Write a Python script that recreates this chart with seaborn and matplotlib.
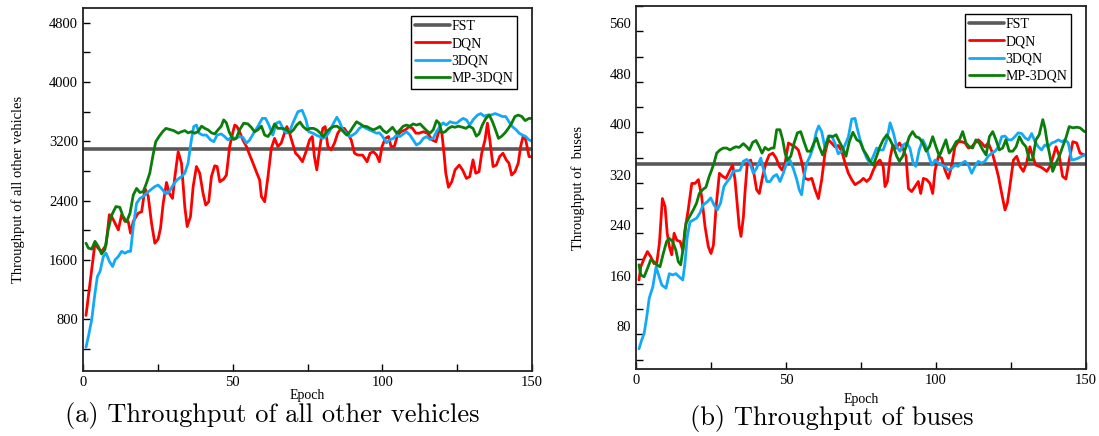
import matplotlib
matplotlib.use("Agg")
import matplotlib.pyplot as plt
import seaborn as sns
import pandas as pd
from matplotlib.ticker import MultipleLocator
from matplotlib.transforms import ScaledTranslation

# ---------------- data: (a) throughput of all other vehicles ----------------
fst_other = 3100

dqn_other_ep = [1, 4, 5, 6.2, 7.7, 8.8, 9.6, 10.7, 11.8, 12.9, 14, 15.1, 15.9, 16.8, 18.4, 19.6, 20.7, 21.8, 22.9, 24,
                25.1, 25.9, 26.8, 27.9, 28.8, 29.9, 30.7, 31.8, 32.9, 34, 34.8, 35.9, 36.8, 37.9, 39, 40.1, 41, 42, 42.9, 44,
                44.8, 45.7, 47, 47.9, 49, 50.1, 50.7, 51.4, 52.3, 53.4, 54.6, 55.7, 56.8, 57.9, 59, 59.6, 60.7, 61.8, 62.9, 64,
                65.1, 66.2, 67.3, 68.1, 69, 70, 71, 72.1, 73.3, 74.5, 75.7, 76.6, 77.3, 78.1, 79, 80.1, 80.9, 81.8, 82.9, 84,
                85.1, 86.2, 87.3, 88.4, 89.6, 90.7, 91.8, 93.4, 94.9, 95.9, 97, 98.1, 99, 99.9, 101, 102.1, 102.9, 104, 105.1, 106.2,
                107.7, 109, 110.1, 111.2, 112.3, 113.7, 115.1, 116.6, 117.9, 119, 119.9, 120.7, 121.2, 122.1, 123.2, 124.3, 125.7, 126.8, 128.1, 129.2,
                130.3, 131.2, 132.3, 133.2, 134.3, 135.1, 135.9, 137, 138.1, 139.2, 140.3, 141.4, 142.3, 143.2, 144.3, 145.4, 146.2, 147, 147.9, 149, 150]
dqn_other = [850, 1825, 1760, 1710, 1800, 2210, 2185, 2095, 2005, 2210, 2120, 2120, 1960, 2120, 2230, 2250, 2565, 2455, 2095, 1825,
             1880, 2030, 2365, 2645, 2500, 2430, 2725, 3060, 2905, 2320, 2050, 2185, 2590, 2860, 2770, 2500, 2340, 2385, 2725, 2870,
             2860, 2655, 2690, 2745, 3130, 3330, 3420, 3400, 3330, 3220, 3130, 3015, 2905, 2790, 2680, 2455, 2385, 2725, 3105, 3240,
             3130, 3175, 3310, 3400, 3310, 3175, 3040, 2995, 2925, 3060, 3220, 3265, 2995, 2815, 3085, 3375, 3400, 3130, 3085, 3175,
             3310, 3375, 3375, 3310, 3220, 3040, 3015, 3015, 2925, 3040, 3060, 3015, 2925, 3130, 3240, 3265, 3130, 3130, 3285, 3330,
             3355, 3400, 3375, 3310, 3310, 3330, 3310, 3220, 3195, 3355, 3310, 2995, 2770, 2580, 2655, 2815, 2880, 2815, 2700, 2725,
             2950, 2770, 2790, 3040, 3220, 3445, 3220, 2860, 2880, 2995, 3040, 2950, 2905, 2745, 2790, 2905, 3130, 3265, 3220, 2995, 2990]

d3qn_other_ep = [1, 1.8, 2.9, 4, 4.8, 5.7, 6.8, 7.7, 8.8, 9.9, 10.7, 11.8, 12.9, 14, 15.1, 15.9, 16.8, 17.9, 19, 20.1,
                 21.2, 22.6, 24, 25.1, 26.2, 27.7, 28.8, 30.1, 31.4, 32.9, 34, 35.1, 36.2, 37, 37.9, 38.8, 39.9, 41.2, 42.6, 43.7,
                 44.8, 46.2, 47.3, 48.4, 49.6, 51, 52.3, 53.4, 54.6, 55.7, 57, 58.4, 59.9, 61, 62.1, 63.4, 64.6, 65.7, 67, 68.1,
                 69.2, 70.3, 71.8, 73.2, 74.5, 75.4, 76.8, 77.9, 79, 80.1, 81.2, 82.3, 83.7, 84.8, 85.7, 86.8, 87.9, 89, 90.1, 91.2,
                 92.3, 93.4, 94.6, 95.7, 97, 98.1, 99, 100.1, 101.4, 102.5, 103.7, 104.8, 105.9, 107, 108.1, 109.2, 110.3, 111.4, 112.6, 113.7,
                 114.8, 115.9, 117, 118.1, 119.2, 120.3, 121.4, 122.6, 123.7, 124.8, 125.9, 127, 128.1, 129.2, 130.3, 131.8, 132.9, 134, 135.1, 136.2,
                 137.7, 139, 140.1, 141.2, 142.3, 143.4, 144.6, 145.7, 146.8, 147.9, 149, 150]
d3qn_other = [420, 565, 790, 1150, 1375, 1445, 1645, 1690, 1580, 1510, 1600, 1645, 1715, 1690, 1715, 1715, 2050, 2365, 2430, 2455,
              2500, 2545, 2590, 2610, 2565, 2490, 2520, 2610, 2680, 2725, 2770, 2905, 3220, 3400, 3420, 3310, 3285, 3285, 3220, 3195,
              3285, 3300, 3265, 3220, 3255, 3240, 3265, 3255, 3175, 3220, 3310, 3400, 3510, 3510, 3420, 3285, 3445, 3465, 3355, 3310,
              3355, 3465, 3600, 3620, 3490, 3330, 3310, 3285, 3265, 3240, 3265, 3330, 3445, 3525, 3465, 3355, 3310, 3265, 3285, 3315,
              3375, 3405, 3375, 3355, 3330, 3310, 3315, 3265, 3180, 3220, 3240, 3285, 3265, 3300, 3330, 3285, 3220, 3150, 3180, 3240,
              3265, 3225, 3240, 3330, 3400, 3450, 3420, 3465, 3450, 3445, 3480, 3510, 3490, 3420, 3490, 3555, 3575, 3540, 3555, 3555,
              3575, 3555, 3535, 3535, 3465, 3400, 3360, 3310, 3285, 3265, 3220, 3200]

mp_other_ep = [1, 1.8, 2.9, 4, 5.1, 6.2, 7.3, 8.4, 9.6, 11, 12.3, 13.4, 14.6, 15.7, 16.8, 17.9, 19, 20.1, 21.2, 22.3,
               23.4, 24.3, 25.4, 26.6, 27.7, 29, 30.3, 31.8, 32.9, 34, 35.1, 36.2, 37.3, 38.4, 39.6, 40.7, 41.8, 42.9, 44, 45.1,
               46.2, 47, 47.9, 48.8, 49.6, 50.3, 51.2, 52.3, 53.7, 55.1, 56.2, 57.3, 58.4, 59.6, 60.7, 61.8, 62.9, 64, 65.1, 66.6,
               67.9, 69.2, 70.3, 71.4, 72.5, 73.5, 74.8, 75.9, 77, 78.1, 79.2, 80.3, 81.4, 82.6, 83.7, 84.8, 85.9, 87, 88.1, 89.2,
               90.3, 91.4, 92.6, 93.7, 94.8, 95.9, 97, 98.1, 99.2, 100.3, 101.4, 102.5, 103.4, 104.8, 105.9, 107, 108.1, 109.2, 110.3, 111.4,
               112.6, 113.7, 114.8, 115.9, 117, 118.1, 119, 119.9, 121, 122.1, 123.2, 124.3, 125.4, 126.8, 127.9, 129, 130.3, 131.4, 132.3, 133.4,
               134.6, 135.7, 136.8, 137.9, 138.8, 139.9, 141, 142.1, 143.2, 144.3, 145.4, 146.6, 147.7, 149, 150]
mp_other = [1825, 1760, 1745, 1850, 1780, 1680, 1735, 2005, 2205, 2320, 2310, 2185, 2115, 2230, 2475, 2565, 2510, 2520, 2635, 2770,
            3015, 3195, 3265, 3330, 3375, 3360, 3345, 3310, 3330, 3345, 3315, 3330, 3310, 3330, 3405, 3375, 3355, 3315, 3300, 3355,
            3405, 3490, 3450, 3330, 3265, 3225, 3240, 3355, 3445, 3435, 3390, 3330, 3355, 3405, 3285, 3265, 3330, 3435, 3375, 3375,
            3360, 3315, 3355, 3420, 3460, 3400, 3355, 3375, 3375, 3355, 3315, 3265, 3330, 3375, 3400, 3405, 3375, 3330, 3285, 3330,
            3400, 3465, 3435, 3405, 3400, 3375, 3355, 3375, 3400, 3345, 3315, 3355, 3390, 3310, 3355, 3405, 3420, 3405, 3435, 3420,
            3435, 3390, 3345, 3310, 3355, 3480, 3445, 3315, 3330, 3375, 3400, 3390, 3405, 3390, 3375, 3405, 3375, 3270, 3300, 3420,
            3510, 3555, 3465, 3345, 3240, 3270, 3315, 3375, 3445, 3535, 3555, 3535, 3480, 3510, 3510]

# ---------------- data: (b) throughput of buses ----------------
fst_bus = 350

dqn_bus_ep = [1, 1.6, 2.7, 3.8, 4.9, 6, 6.9, 7.8, 8.8, 9.7, 10.4, 11.1, 11.9, 12.7, 13.6, 14.7, 15.6, 16.3, 17.4, 18.6,
              19.7, 20.8, 21.9, 23, 24.1, 25, 25.8, 26.7, 27.8, 28.9, 30, 31.1, 32.2, 33, 33.8, 34.4, 35, 35.8, 36.3, 37.1,
              38.2, 39.3, 40.2, 41.1, 42.2, 43.3, 44.4, 45.6, 46.7, 47.8, 48.7, 49.7, 50.8, 51.9, 53, 54.1, 55.2, 56.3, 57.4, 58.6,
              59.7, 60.8, 61.9, 63, 64.1, 65.2, 66.3, 67.4, 68.6, 69.7, 70.8, 71.9, 73, 74.7, 75.8, 76.9, 78, 79.1, 80.2, 81.3,
              82.4, 83, 83.8, 84.7, 85.6, 86.7, 87.8, 88.9, 90, 90.8, 91.9, 93, 94.1, 94.9, 95.8, 96.9, 98, 98.9, 99.7, 100.8,
              101.9, 103, 104.1, 105.2, 106.3, 107.4, 108.6, 109.7, 110.8, 111.9, 113, 114.1, 115.2, 116.3, 117.4, 118.6, 119.7, 120.8, 121.9, 123,
              123.8, 124.7, 125.8, 126.9, 128, 129.1, 130.2, 131.3, 132.2, 133.3, 134.4, 135.6, 136.9, 138, 138.9, 140, 141.1, 142.2, 143.3, 144.4,
              145.6, 146.9, 148, 149.5]
dqn_bus = [166, 187, 200, 211, 203, 192, 192, 224, 295, 282, 240, 219, 206, 240, 229, 227, 213, 245, 277, 319,
           319, 325, 298, 251, 219, 208, 221, 282, 335, 330, 327, 338, 348, 325, 282, 251, 235, 266, 303, 351,
           356, 335, 309, 303, 330, 351, 364, 367, 359, 346, 340, 351, 383, 380, 377, 372, 354, 327, 325, 327,
           309, 295, 325, 367, 388, 383, 377, 379, 370, 351, 335, 325, 317, 322, 327, 322, 327, 340, 351, 356,
           346, 314, 322, 359, 380, 375, 383, 375, 362, 311, 306, 314, 322, 303, 327, 325, 319, 303, 340, 362,
           359, 340, 327, 346, 377, 385, 385, 383, 375, 377, 383, 388, 383, 377, 383, 370, 351, 330, 303, 277,
           288, 317, 356, 362, 346, 338, 351, 377, 362, 348, 346, 343, 338, 346, 359, 377, 362, 330, 326, 356,
           385, 383, 367, 364]

d3qn_bus_ep = [1, 1.9, 2.7, 3.6, 4.4, 5.6, 6.7, 7.4, 8.6, 10, 11.1, 12.2, 13.3, 14.4, 15.6, 16.3, 17.1, 18, 19.1, 20.2,
               21.3, 22.4, 23.8, 24.9, 26, 27.1, 28.2, 29.3, 30.4, 31.3, 32.4, 33.6, 34.7, 35.8, 36.9, 38, 39.1, 40.2, 41.6, 42.4,
               43.6, 44.7, 45.8, 46.9, 48, 49.1, 50.2, 51.3, 52.4, 53.6, 54.4, 55.2, 56, 56.9, 58, 59.1, 60, 60.9, 61.9, 63,
               64.1, 65.2, 66.3, 67.4, 68.6, 69.7, 70.8, 71.9, 73, 73.6, 74.7, 75.8, 76.9, 78, 79.1, 80.2, 81.3, 82.4, 83.6, 84.7,
               85.8, 86.9, 88, 89.1, 90.2, 91.3, 92.4, 93.3, 94.4, 95.6, 96.7, 97.8, 98.6, 99.7, 100.8, 101.9, 103, 104.1, 105.2, 106.3,
               107.4, 108.6, 109.7, 110.8, 111.9, 113, 114.1, 115.2, 116.3, 117.4, 118.6, 119.7, 120.8, 121.9, 123, 124.1, 125.2, 126.3, 127.4, 128.6,
               129.7, 130.8, 131.9, 133, 134.1, 135.2, 136.3, 137.4, 138.6, 139.7, 140.8, 141.9, 143, 144.1, 145.2, 146.3, 147.4, 148.6, 149.6]
d3qn_bus = [57, 71, 81, 108, 137, 155, 187, 176, 158, 153, 176, 174, 176, 171, 166, 192, 235, 258, 261, 264,
            272, 285, 290, 296, 285, 277, 288, 314, 322, 327, 338, 339, 340, 354, 357, 351, 335, 343, 359, 343,
            322, 322, 330, 333, 322, 335, 351, 356, 343, 325, 309, 301, 330, 351, 362, 377, 399, 410, 401, 375,
            394, 394, 383, 366, 370, 380, 393, 421, 422, 409, 388, 372, 359, 351, 362, 375, 372, 372, 388, 415,
            399, 377, 370, 380, 383, 375, 351, 346, 372, 388, 377, 359, 348, 356, 351, 348, 346, 340, 343, 348,
            346, 351, 354, 348, 335, 346, 354, 351, 354, 362, 367, 370, 377, 393, 394, 388, 388, 393, 399, 398,
            391, 388, 398, 385, 377, 372, 380, 377, 383, 385, 388, 385, 388, 383, 356, 357, 359, 362, 364]

mp_bus_ep = [1, 1.6, 2.7, 3.8, 4.9, 6, 6.9, 8, 9.1, 10.2, 11.1, 12.2, 13.3, 14.1, 14.9, 15.8, 16.7, 17.8, 19.1, 20.2,
             21.1, 22.2, 23.3, 24.4, 25.2, 26, 26.9, 28, 29.1, 30.2, 31.3, 32.4, 33.3, 34.4, 35.8, 36.9, 37.8, 38.9, 40, 41.1,
             42, 43, 44.1, 45.2, 46, 46.9, 48, 48.9, 49.7, 50.4, 51.6, 52.7, 53.8, 54.9, 56, 57.1, 58.2, 59.3, 60.2, 61.1,
             62.2, 63.3, 64.4, 65.6, 66.7, 67.8, 68.9, 70, 71.1, 72.3, 73.6, 74.7, 75.8, 76.9, 78, 79.1, 80.2, 81.3, 82.4, 83.6,
             84.7, 85.8, 86.9, 87.8, 88.9, 90, 91.1, 92.2, 93.3, 94.4, 95.6, 96.7, 97.8, 98.9, 100, 101.1, 102.2, 103.3, 104.4, 105.6,
             106.7, 107.8, 108.9, 110, 111.1, 112.2, 113.3, 114.4, 115.6, 116.7, 117.8, 118.9, 120, 121.1, 122.2, 123.3, 124.4, 125.6, 126.7, 127.8,
             128.9, 130, 131.1, 132.2, 133.3, 134.4, 135.6, 136.3, 137.1, 138, 138.9, 140, 141.1, 142.2, 143.3, 144.4, 145.6, 146.9, 148, 149.5]
mp_bus = [190, 174, 171, 184, 198, 195, 190, 187, 208, 227, 232, 227, 213, 195, 190, 219, 256, 266, 277, 288,
          303, 309, 313, 330, 340, 351, 367, 372, 375, 375, 372, 375, 377, 376, 382, 377, 372, 384, 387, 377,
          367, 376, 372, 375, 375, 404, 404, 388, 367, 356, 362, 383, 399, 401, 385, 370, 370, 383, 391, 377,
          364, 380, 394, 393, 396, 385, 375, 362, 385, 400, 388, 385, 372, 364, 354, 348, 362, 377, 388, 396,
          388, 377, 362, 354, 362, 377, 393, 401, 393, 391, 383, 370, 377, 393, 377, 362, 375, 388, 367, 375,
          385, 388, 401, 383, 377, 375, 388, 383, 372, 364, 393, 401, 388, 372, 375, 388, 370, 370, 377, 393,
          383, 377, 356, 356, 388, 396, 420, 407, 383, 362, 338, 351, 362, 377, 391, 409, 407, 408, 407, 401]

methods = ["FST", "DQN", "3DQN", "MP-3DQN"]
colors = {"FST": "#595959", "DQN": "#ff0000", "3DQN": "#14a9f7", "MP-3DQN": "#0a7d0a"}
widths = {"FST": 2.6, "DQN": 2.0, "3DQN": 2.0, "MP-3DQN": 2.0}
epoch_range = [0, 150]


def long_df(fst, series):
    rows = [pd.DataFrame({"Epoch": epoch_range, "value": [fst, fst], "method": "FST"})]
    for name, (ep, vals) in series.items():
        rows.append(pd.DataFrame({"Epoch": ep, "value": vals, "method": name}))
    return pd.concat(rows, ignore_index=True)


df_other = long_df(fst_other, {"DQN": (dqn_other_ep, dqn_other),
                               "3DQN": (d3qn_other_ep, d3qn_other),
                               "MP-3DQN": (mp_other_ep, mp_other)})
df_bus = long_df(fst_bus, {"DQN": (dqn_bus_ep, dqn_bus),
                           "3DQN": (d3qn_bus_ep, d3qn_bus),
                           "MP-3DQN": (mp_bus_ep, mp_bus)})

sns.set_style("ticks")
plt.rcParams["font.family"] = ["Liberation Serif", "DejaVu Serif"]
plt.rcParams["axes.linewidth"] = 1.3
plt.rcParams["axes.edgecolor"] = "#222222"
plt.rcParams["text.color"] = "black"
plt.rcParams["axes.labelcolor"] = "black"
plt.rcParams["xtick.color"] = "black"
plt.rcParams["ytick.color"] = "black"

fig = plt.figure(figsize=(10.99, 4.36), dpi=100)
ax1 = fig.add_axes([83 / 1099, 1 - 371 / 436, 449 / 1099, 363 / 436])
ax2 = fig.add_axes([636 / 1099, 1 - 369 / 436, 450 / 1099, 363 / 436])


def draw(ax, df, ylabel, ylim, ymajor, yminor):
    for m in methods:
        sns.lineplot(data=df[df["method"] == m], x="Epoch", y="value", ax=ax,
                     color=colors[m], linewidth=widths[m], label=m,
                     estimator=None, sort=False)
    ax.set_xlim(0, 150)
    ax.set_ylim(*ylim)
    ax.xaxis.set_major_locator(MultipleLocator(50))
    ax.xaxis.set_minor_locator(MultipleLocator(25))
    ax.yaxis.set_major_locator(MultipleLocator(ymajor))
    ax.yaxis.set_minor_locator(MultipleLocator(yminor))
    ax.tick_params(which="both", direction="in", length=5, width=1.0, labelsize=10.5,
                   top=False, right=False)
    ax.set_xlabel("Epoch", fontsize=10)
    ax.set_ylabel(ylabel, fontsize=10.5)
    leg = ax.legend(loc="upper right", bbox_to_anchor=(0.967, 0.978), borderaxespad=0,
                    fontsize=10, handlelength=2.5, handletextpad=0.1, labelspacing=0.3,
                    borderpad=0.3, fancybox=False, framealpha=1, edgecolor="black")
    leg.get_frame().set_linewidth(1.0)
    for side in ["top", "right"]:
        ax.spines[side].set_visible(True)


draw(ax1, df_other, "Throughput of all other vehicles", (100, 5000), 800, 400)
draw(ax2, df_bus, "Throughput of  buses", (25, 600), 80, 40)

ax1.yaxis.set_label_coords(-0.13, 0.5)
ax2.yaxis.set_label_coords(-0.113, 0.5)
ax1.xaxis.set_label_coords(0.5, -0.05)
ax2.xaxis.set_label_coords(0.5, -0.065)

# right panel tick labels sit a bit above their ticks in the original
for lab in ax2.get_yticklabels():
    lab.set_transform(lab.get_transform() + ScaledTranslation(0, 8 / 100, fig.dpi_scale_trans))

fig.text(272 / 1099, 1 - 415 / 436, "(a) Throughput of all other vehicles", ha="center", va="center",
         fontsize=19, color="black", family=["cmr10", "DejaVu Serif"])
fig.text(832 / 1099, 1 - 418 / 436, "(b) Throughput of buses", ha="center", va="center",
         fontsize=19, color="black", family=["cmr10", "DejaVu Serif"])

fig.savefig("out.png", dpi=100)
